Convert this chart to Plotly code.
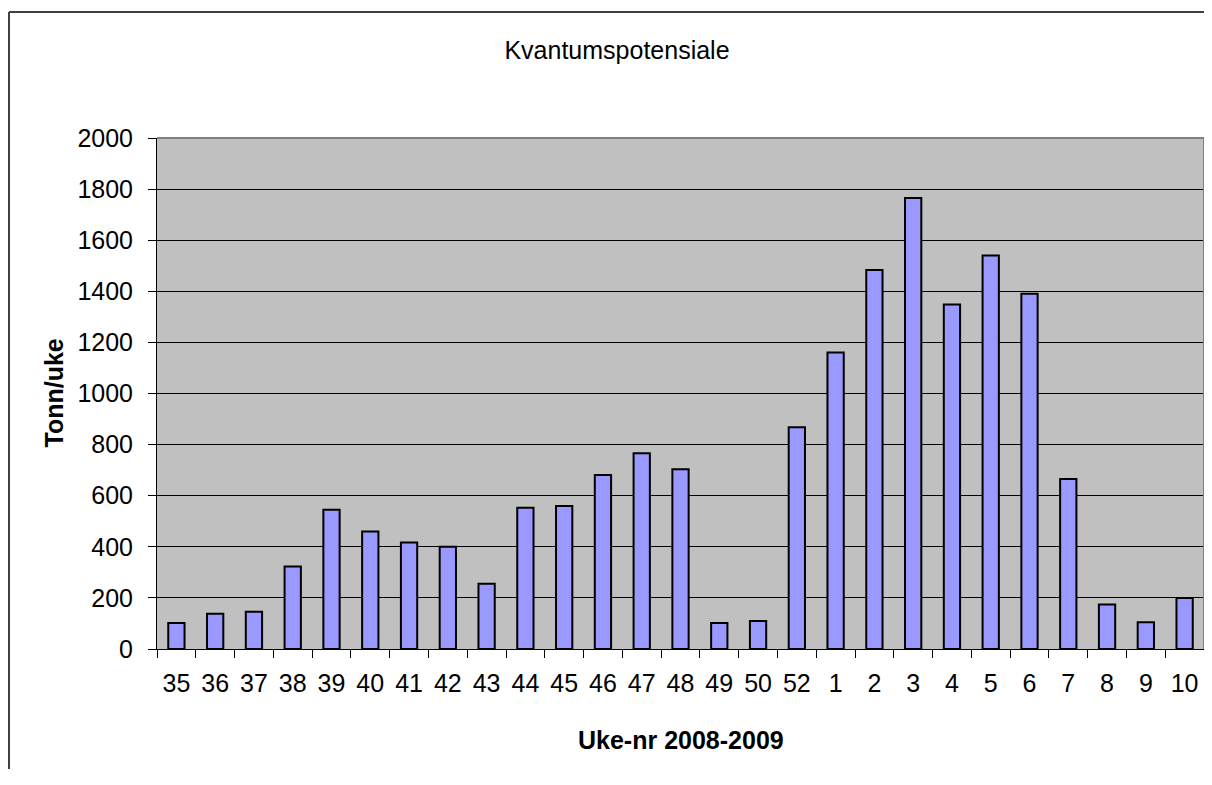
import plotly.graph_objects as go

# Kvantumspotensiale per uke (tonn/uke), uke 35/2008 - uke 10/2009
weeks = ['35', '36', '37', '38', '39', '40', '41', '42', '43', '44', '45', '46', '47', '48',
         '49', '50', '52', '1', '2', '3', '4', '5', '6', '7', '8', '9', '10']
tonn = [102, 138, 146, 323, 545, 460, 417, 400, 255, 553, 560, 681, 766, 704,
        102, 110, 868, 1160, 1483, 1765, 1348, 1540, 1390, 665, 174, 105, 200]
y_ticks = list(range(0, 2001, 200))

FONT = 'Liberation Sans, Arial, sans-serif'

fig = go.Figure()
fig.add_trace(go.Bar(
    x=weeks,
    y=tonn,
    marker=dict(color='#9999FF', line=dict(color='black', width=2)),
    showlegend=False,
))

# the page body adds an 8px margin, keep the figure inside the window
OFF = 8
W, H = 1212 - 2 * OFF, 785 - 2 * OFF - 8
L, R, T, B = 157 - OFF, 1204 - OFF, 138 - OFF, 649 - OFF
pw, ph = R - L, B - T


def px_x(px):
    return (px - OFF - L) / pw


def px_y(py):
    return (B - (py - OFF)) / ph


fig.update_layout(
    width=W, height=H,
    margin=dict(l=L, r=W - R, t=T, b=H - B, autoexpand=False),
    paper_bgcolor='white',
    plot_bgcolor='#C0C0C0',
    bargap=0.58,
    font=dict(family=FONT, size=25, color='black'),
    title=dict(text='Kvantumspotensiale', x=(617 - OFF) / W, xanchor='center',
               y=1 - (50 - OFF) / H, yanchor='middle', yref='container',
               font=dict(family=FONT, size=25, color='black')),
    xaxis=dict(
        type='category', tickson='boundaries', ticks='outside', ticklen=8,
        tickcolor='black', showline=True, linecolor='black', linewidth=1,
        showgrid=False, ticklabelstandoff=12,
        tickfont=dict(family=FONT, size=25, color='black'),
    ),
    yaxis=dict(
        range=[0, 2000], tickvals=y_ticks, ticks='outside', ticklen=8,
        tickcolor='black', showline=True, linecolor='black', linewidth=1,
        showgrid=True, gridcolor='black', gridwidth=1, zeroline=False,
        ticklabelstandoff=10,
        tickfont=dict(family=FONT, size=25, color='black'),
    ),
    shapes=[
        # grey plot-area border (top and right)
        dict(type='line', xref='paper', yref='paper', x0=0, x1=1, y0=1, y1=1,
             line=dict(color='#808080', width=2)),
        dict(type='line', xref='paper', yref='paper', x0=1, x1=1, y0=0, y1=1,
             line=dict(color='#808080', width=2)),
        # outer chart border: only top and left edges are visible
        dict(type='line', xref='paper', yref='paper',
             x0=px_x(9), x1=px_x(1204), y0=px_y(12), y1=px_y(12),
             line=dict(color='#404040', width=2)),
        dict(type='line', xref='paper', yref='paper',
             x0=px_x(9), x1=px_x(9), y0=px_y(12), y1=px_y(785),
             line=dict(color='#404040', width=2)),
    ],
    annotations=[
        dict(text='<b>Uke-nr 2008-2009</b>', xref='paper', yref='paper',
             x=0.5, y=px_y(740), xanchor='center', yanchor='middle',
             showarrow=False, font=dict(family=FONT, size=25, color='black')),
        dict(text='<b>Tonn/uke</b>', xref='paper', yref='paper',
             x=px_x(53), y=0.5, xanchor='center', yanchor='middle',
             textangle=-90, showarrow=False,
             font=dict(family=FONT, size=25, color='black')),
    ],
)

fig.write_html('out.html')
